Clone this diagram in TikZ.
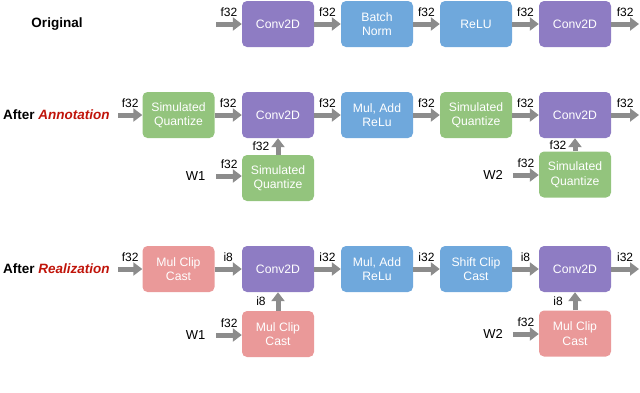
\documentclass[tikz,border=0pt]{standalone}
\usepackage{fontspec}
\setmainfont{Liberation Sans}
\usetikzlibrary{arrows.meta}
\definecolor{cpurple}{RGB}{142,124,195}
\definecolor{cblue}{RGB}{111,168,220}
\definecolor{cgreen}{RGB}{147,196,125}
\definecolor{cpink}{RGB}{234,153,153}
\definecolor{cgray}{RGB}{140,140,140}
\definecolor{cred}{RGB}{192,20,10}
\tikzset{
  blk/.style={rounded corners=5pt, minimum width=72pt, minimum height=46pt, inner sep=0pt,
    text=white, align=center, font=\fontsize{12.2}{14.5}\selectfont},
  conv/.style={blk, fill=cpurple},
  bluebox/.style={blk, fill=cblue},
  greenbox/.style={blk, fill=cgreen},
  pinkbox/.style={blk, fill=cpink},
  garrow/.style={draw=cgray, line width=5pt, -{Triangle[length=9pt,width=13pt]}},
  lbl/.style={font=\fontsize{12}{12}\selectfont, text=black, inner sep=0pt},
  toplbl/.style={lbl, midway, yshift=12pt},
  sidelbl/.style={lbl, midway, xshift=-17pt},
  rowtitle/.style={font=\fontsize{13.5}{15}\selectfont\bfseries, inner sep=0pt},
  wlbl/.style={font=\fontsize{13}{14}\selectfont, inner sep=0pt},
}
\begin{document}
\begin{tikzpicture}[x=1pt,y=-1pt]
\useasboundingbox (0,0) rectangle (640,392);

% Row 1: Original
\node[rowtitle] (t1) at (57,24) {Original};
\node[conv] (a1) at (278,24) {Conv2D};
\node[bluebox] (a2) at (377,24) {Batch\\Norm};
\node[bluebox] (a3) at (476,24) {ReLU};
\node[conv] (a4) at (575,24) {Conv2D};
\coordinate (ain) at (216,24);
\coordinate (aout) at (639,24);
\draw[garrow] (ain) -- (a1.west) node[toplbl] {f32};
\draw[garrow] (a1.east) -- (a2.west) node[toplbl] {f32};
\draw[garrow] (a2.east) -- (a3.west) node[toplbl] {f32};
\draw[garrow] (a3.east) -- (a4.west) node[toplbl] {f32};
\draw[garrow] (a4.east) -- (aout) node[toplbl] {f32};

% Row 2: After Annotation
\node[rowtitle, anchor=west] (t2) at (3,115) {After \textcolor{cred}{\itshape Annotation}};
\node[greenbox] (b0) at (178.5,115) {Simulated\\Quantize};
\node[conv] (b1) at (278,115) {Conv2D};
\node[bluebox] (b2) at (377,115) {Mul, Add\\ReLu};
\node[greenbox] (b3) at (476,115) {Simulated\\Quantize};
\node[conv] (b4) at (575,115) {Conv2D};
\node[greenbox] (bw1) at (278,178) {Simulated\\Quantize};
\node[greenbox] (bw2) at (575,174.5) {Simulated\\Quantize};
\node[wlbl] (w1) at (195.5,176) {W1};
\node[wlbl] (w2) at (493,175) {W2};
\coordinate (bin) at (118,115);
\coordinate (bout) at (639,115);
\draw[garrow] (bin) -- (b0.west) node[toplbl] {f32};
\draw[garrow] (b0.east) -- (b1.west) node[toplbl] {f32};
\draw[garrow] (b1.east) -- (b2.west) node[toplbl] {f32};
\draw[garrow] (b2.east) -- (b3.west) node[toplbl] {f32};
\draw[garrow] (b3.east) -- (b4.west) node[toplbl] {f32};
\draw[garrow] (b4.east) -- (bout) node[toplbl] {f32};
\draw[garrow] (w1.east) ++(11,0) coordinate (w1s) -- (bw1.west |- w1s) node[toplbl] {f32};
\draw[garrow] (w2.east) ++(10,0) coordinate (w2s) -- (bw2.west |- w2s) node[toplbl] {f32};
\draw[garrow] (bw1.north) -- (b1.south) node[sidelbl] {f32};
\draw[garrow] (bw2.north) -- (b4.south) node[sidelbl] {f32};

% Row 3: After Realization
\node[rowtitle, anchor=west] (t3) at (3,269) {After \textcolor{cred}{\itshape Realization}};
\node[pinkbox] (c0) at (178.5,269) {Mul Clip\\Cast};
\node[conv] (c1) at (278,269) {Conv2D};
\node[bluebox] (c2) at (377,269) {Mul, Add\\ReLu};
\node[bluebox] (c3) at (476,269) {Shift Clip\\Cast};
\node[conv] (c4) at (575,269) {Conv2D};
\node[pinkbox] (cw1) at (278,334) {Mul Clip\\Cast};
\node[pinkbox] (cw2) at (575,333.5) {Mul Clip\\Cast};
\node[wlbl] (v1) at (195.5,335) {W1};
\node[wlbl] (v2) at (493,334) {W2};
\coordinate (cin) at (118,269);
\coordinate (cout) at (639,269);
\draw[garrow] (cin) -- (c0.west) node[toplbl] {f32};
\draw[garrow] (c0.east) -- (c1.west) node[toplbl] {i8};
\draw[garrow] (c1.east) -- (c2.west) node[toplbl] {i32};
\draw[garrow] (c2.east) -- (c3.west) node[toplbl] {i32};
\draw[garrow] (c3.east) -- (c4.west) node[toplbl] {i8};
\draw[garrow] (c4.east) -- (cout) node[toplbl] {i32};
\draw[garrow] (v1.east) ++(11,0) coordinate (v1s) -- (cw1.west |- v1s) node[toplbl] {f32};
\draw[garrow] (v2.east) ++(10,0) coordinate (v2s) -- (cw2.west |- v2s) node[toplbl] {f32};
\draw[garrow] (cw1.north) -- (c1.south) node[sidelbl] {i8};
\draw[garrow] (cw2.north) -- (c4.south) node[sidelbl] {i8};
\end{tikzpicture}
\end{document}
